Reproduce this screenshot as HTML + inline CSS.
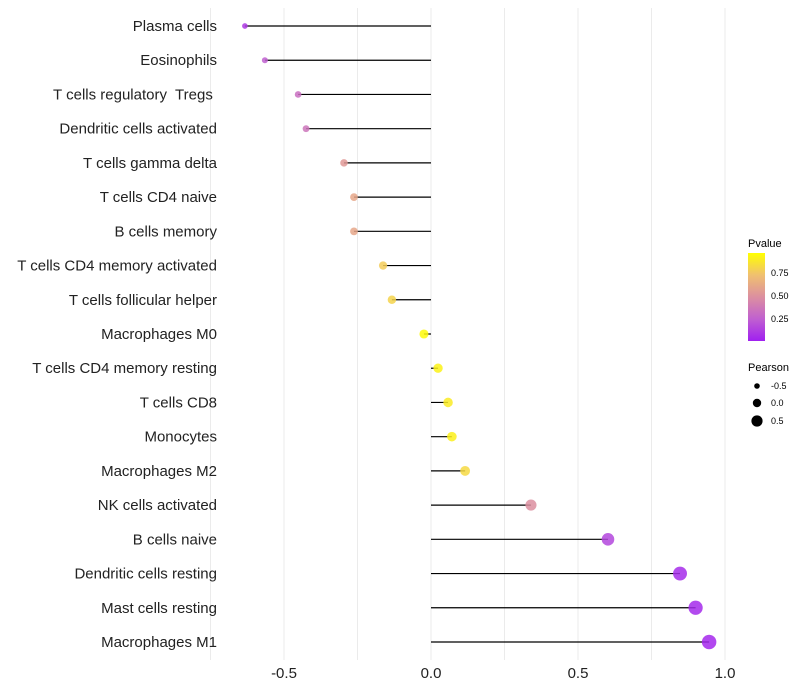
<!DOCTYPE html>
<html><head><meta charset="utf-8"><style>
body{margin:0;background:#fff;font-family:"Liberation Sans",sans-serif}
svg{display:block}
text{white-space:pre}
</style></head><body>
<svg id="chart" width="800" height="700" viewBox="0 0 800 700">
<g id="grid"></g>
<g id="marks"></g>
<g id="labels"></g>
<g id="ticks"></g>
<g id="legend">
<defs><linearGradient id="pg" x1="0" y1="1" x2="0" y2="0">
<stop offset="0" stop-color="#a020f0"/><stop offset="0.25" stop-color="#c060d0"/><stop offset="0.5" stop-color="#dc8fa0"/><stop offset="0.75" stop-color="#f0c070"/><stop offset="1" stop-color="#ffff00"/></linearGradient></defs>
<text x="748" y="247" font-size="11">Pvalue</text>
<rect x="748" y="253" width="17" height="88" fill="url(#pg)"/>
<text x="771" y="276" font-size="9">0.75</text>
<text x="771" y="299" font-size="9">0.50</text>
<text x="771" y="322" font-size="9">0.25</text>
<text x="748" y="371" font-size="11">Pearson</text>
<circle cx="757" cy="386" r="2.8" fill="#000"/>
<circle cx="757" cy="403" r="4.2" fill="#000"/>
<circle cx="757" cy="421" r="5.6" fill="#000"/>
<text x="771" y="389" font-size="9">-0.5</text>
<text x="771" y="406" font-size="9">0.0</text>
<text x="771" y="424" font-size="9">0.5</text>
</g>
</svg>
<script>
const categories=["Plasma cells","Eosinophils","T cells regulatory  Tregs ","Dendritic cells activated","T cells gamma delta","T cells CD4 naive","B cells memory","T cells CD4 memory activated","T cells follicular helper","Macrophages M0","T cells CD4 memory resting","T cells CD8","Monocytes","Macrophages M2","NK cells activated","B cells naive","Dendritic cells resting","Mast cells resting","Macrophages M1"];
const pearson=[-0.633,-0.565,-0.452,-0.425,-0.296,-0.262,-0.262,-0.163,-0.133,-0.024,0.024,0.058,0.071,0.116,0.34,0.602,0.847,0.90,0.946];
const pvalues=[0.1,0.25,0.33,0.36,0.55,0.62,0.62,0.8,0.83,0.98,0.95,0.92,0.94,0.85,0.5,0.15,0.05,0.04,0.03];
const xTicks=[-0.5,0,0.5,1.0];
const xTickLabels=["-0.5","0.0","0.5","1.0"];
const NS="http://www.w3.org/2000/svg";
const xs=v=>431+v*294;
const ys=i=>26+i*(616/(categories.length-1));
const stops=[[0,[160,32,240]],[0.25,[192,96,208]],[0.5,[220,143,160]],[0.75,[240,192,112]],[1,[255,255,0]]];
function col(p){for(let k=1;k<stops.length;k++){if(p<=stops[k][0]){const a=stops[k-1],b=stops[k],t=(p-a[0])/(b[0]-a[0]);return "rgb("+a[1].map((c,j)=>Math.round(c+(b[1][j]-c)*t)).join(",")+")";}}return "rgb(255,255,0)";}
function mk(t,at,parent){const e=document.createElementNS(NS,t);for(const k in at)e.setAttribute(k,at[k]);parent.appendChild(e);return e;}
const grid=document.getElementById('grid'),marks=document.getElementById('marks'),labels=document.getElementById('labels'),ticks=document.getElementById('ticks');
[-0.75,-0.5,-0.25,0,0.25,0.5,0.75,1].forEach(v=>{const l=mk('line',{x1:xs(v),x2:xs(v),y1:8,y2:660,stroke:'#ebebeb','stroke-width':1},grid);

});
xTicks.forEach((v,i)=>{const t=mk('text',{x:xs(v),y:678,'font-size':15,'text-anchor':'middle',fill:'#222'},ticks);t.textContent=xTickLabels[i];

});
categories.forEach((c,i)=>{const y=ys(i);
const t=mk('text',{x:217,y:y+5,'font-size':15,'text-anchor':'end',fill:'#222'},labels);t.textContent=c;


const l=mk('line',{x1:xs(0),x2:xs(pearson[i]),y1:y,y2:y,stroke:'#000','stroke-width':1.2},marks);


const d=mk('circle',{cx:xs(pearson[i]),cy:y,r:Math.max(2,4.6+2.8*pearson[i]),fill:col(pvalues[i]),'fill-opacity':0.85},marks);

});
</script>
</body></html>
